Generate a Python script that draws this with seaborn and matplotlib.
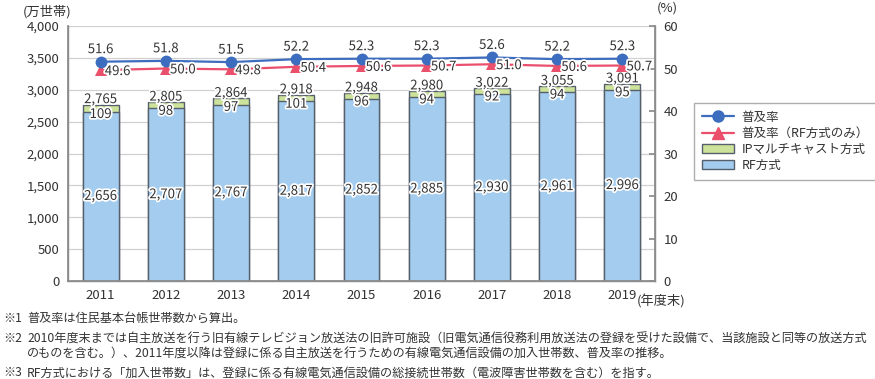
import numpy as np
import matplotlib
matplotlib.use("Agg")
import matplotlib.pyplot as plt
import matplotlib.patheffects as pe
from matplotlib.lines import Line2D
from matplotlib.patches import Patch
from matplotlib.ticker import FuncFormatter, MultipleLocator, FixedLocator
import seaborn as sns

# ---------------------------------------------------------------------------
# Data (万世帯 / %)
# ---------------------------------------------------------------------------
years = ["2011", "2012", "2013", "2014", "2015", "2016", "2017", "2018", "2019"]
rf_households = [2656, 2707, 2767, 2817, 2852, 2885, 2930, 2961, 2996]
ip_households = [109, 98, 97, 101, 96, 94, 92, 94, 95]
total_households = [2765, 2805, 2864, 2918, 2948, 2980, 3022, 3055, 3091]
rate_all = [51.6, 51.8, 51.5, 52.2, 52.3, 52.3, 52.6, 52.2, 52.3]
rate_rf = [49.6, 50.0, 49.8, 50.4, 50.6, 50.7, 51.0, 50.6, 50.7]

legend_labels = ["普及率", "普及率（RF方式のみ）", "IPマルチキャスト方式", "RF方式"]
note_marks = ["※1", "※2", "", "※3"]
note_lines = [
    "普及率は住民基本台帳世帯数から算出。",
    "2010年度末までは自主放送を行う旧有線テレビジョン放送法の旧許可施設（旧電気通信役務利用放送法の登録を受けた設備で、当該施設と同等の放送方式",
    "のものを含む。）、2011年度以降は登録に係る自主放送を行うための有線電気通信設備の加入世帯数、普及率の推移。",
    "RF方式における「加入世帯数」は、登録に係る有線電気通信設備の総接続世帯数（電波障害世帯数を含む）を指す。",
]

# ---------------------------------------------------------------------------
# Style
# ---------------------------------------------------------------------------
BLUE_BAR = "#A3CCEE"
GREEN_BAR = "#CDE29A"
BAR_EDGE = "#56606C"
LINE_BLUE = "#3D6DBE"
LINE_RED = "#EA4F6C"
TEXT = "#333333"
AXIS = "#8C8C8C"
GRID = "#D0D0D0"

sns.set_theme(style="white")
plt.rcParams["font.family"] = ["Noto Sans CJK JP", "DejaVu Sans"]
plt.rcParams["text.color"] = TEXT
plt.rcParams["xtick.color"] = TEXT
plt.rcParams["ytick.color"] = TEXT

FS = 9.5
halo = [pe.withStroke(linewidth=2.5, foreground="white")]

fig = plt.figure(figsize=(8.75, 3.79), dpi=100)
ax = fig.add_axes([68 / 875, 1 - 281 / 379, (655 - 68) / 875, (281 - 26) / 379])

# stacked bars: total (green) then RF (blue) over it
sns.barplot(x=years, y=total_households, color=GREEN_BAR, saturation=1,
            width=0.55, edgecolor=BAR_EDGE, linewidth=1.0, ax=ax, zorder=3)
sns.barplot(x=years, y=rf_households, color=BLUE_BAR, saturation=1,
            width=0.55, edgecolor=BAR_EDGE, linewidth=1.0, ax=ax, zorder=3)

ax.set_ylim(0, 4000)
ax.set_xlim(-0.5, len(years) - 0.5)
ax.yaxis.set_major_locator(MultipleLocator(500))
ax.yaxis.set_major_formatter(FuncFormatter(lambda v, p: f"{int(v):,}"))
ax.grid(axis="y", color=GRID, linewidth=0.9, zorder=0)
ax.set_axisbelow(True)
ax.set_xlabel("")
ax.set_ylabel("")
ax.tick_params(axis="y", length=0, labelsize=FS, pad=6)
ax.tick_params(axis="x", which="major", length=0, labelsize=FS, pad=6)
ax.xaxis.set_minor_locator(FixedLocator(np.arange(0.5, len(years) - 1, 1.0)))
ax.tick_params(axis="x", which="minor", direction="in", length=5, color=AXIS, width=0.9)
for side in ["left", "bottom", "right"]:
    ax.spines[side].set_color(AXIS)
    ax.spines[side].set_linewidth(1.0)
ax.spines["top"].set_visible(False)

# bar labels
for i in range(len(years)):
    ax.annotate(f"{total_households[i]:,}", (i, total_households[i]), xytext=(0, -1),
                textcoords="offset points", ha="center", va="bottom", fontsize=FS,
                path_effects=halo, zorder=5)
    ax.annotate(f"{ip_households[i]:,}", (i, rf_households[i]), xytext=(0, -2),
                textcoords="offset points", ha="center", va="center", fontsize=FS,
                path_effects=halo, zorder=5)
    ax.annotate(f"{rf_households[i]:,}", (i, rf_households[i] / 2), xytext=(0, 0),
                textcoords="offset points", ha="center", va="center", fontsize=FS,
                path_effects=halo, zorder=5)

# lines on right axis
ax2 = ax.twinx()
xs = np.arange(len(years))
sns.lineplot(x=xs, y=rate_rf, ax=ax2, color=LINE_RED, linewidth=1.6,
             marker="^", markersize=9, markeredgewidth=0, zorder=4)
sns.lineplot(x=xs, y=rate_all, ax=ax2, color=LINE_BLUE, linewidth=1.6,
             marker="o", markersize=8.5, markeredgewidth=0, zorder=4)
ax2.set_ylim(0, 60)
ax2.set_xlim(-0.5, len(years) - 0.5)
ax2.yaxis.set_major_locator(MultipleLocator(10))
ax2.tick_params(axis="y", direction="in", length=4, color=AXIS, labelsize=FS, pad=6)
ax2.grid(False)
ax2.set_ylabel("")
for side in ["left", "bottom", "right"]:
    ax2.spines[side].set_color(AXIS)
ax2.spines["top"].set_visible(False)

for i in range(len(years)):
    ax2.annotate(f"{rate_all[i]:.1f}", (i, rate_all[i]), xytext=(0, 4),
                 textcoords="offset points", ha="center", va="bottom", fontsize=FS,
                 path_effects=halo, zorder=6)
    ax2.annotate(f"{rate_rf[i]:.1f}", (i, rate_rf[i]), xytext=(3, -1),
                 textcoords="offset points", ha="left", va="center", fontsize=FS,
                 path_effects=halo, zorder=6)

# unit labels
fig.text(47 / 875, 1 - 12 / 379, "(万世帯)", ha="center", va="center", fontsize=FS)
fig.text(667 / 875, 1 - 8 / 379, "(%)", ha="center", va="center", fontsize=FS)
ax.annotate("(年度末)", (len(years) - 1, 0), xytext=(10.5, -15), textcoords="offset points",
            ha="left", va="center", fontsize=FS, annotation_clip=False)

# legend
handles = [
    Line2D([], [], color=LINE_BLUE, marker="o", markersize=8, linewidth=1.6),
    Line2D([], [], color=LINE_RED, marker="^", markersize=9, linewidth=1.6),
    Patch(facecolor=GREEN_BAR, edgecolor=BAR_EDGE, linewidth=1.0),
    Patch(facecolor=BLUE_BAR, edgecolor=BAR_EDGE, linewidth=1.0),
]
leg = fig.legend(handles, legend_labels, loc="upper left",
                 bbox_to_anchor=(688 / 875, 1 - 97 / 379), fontsize=9,
                 frameon=True, fancybox=False, edgecolor="#999999",
                 handlelength=2.6, handletextpad=0.6, labelspacing=0.25,
                 borderpad=0.6)
leg.get_frame().set_linewidth(1.0)

# footnotes (one text per line)
note_y = [318, 339, 354, 373]
for mark, body, y in zip(note_marks, note_lines, note_y):
    if mark:
        fig.text(3 / 875, 1 - y / 379, mark, ha="left", va="center", fontsize=8.75)
    fig.text(27 / 875, 1 - y / 379, body, ha="left", va="center", fontsize=8.75)

fig.savefig("out.png", dpi=100)
